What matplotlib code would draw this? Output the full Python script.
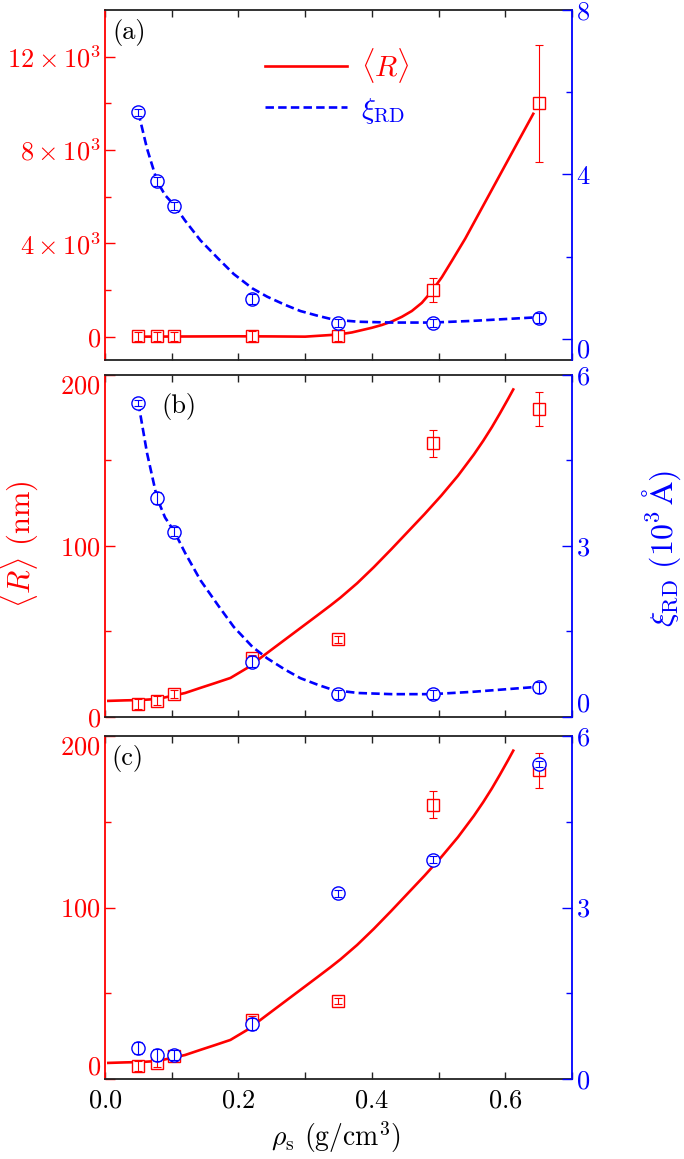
import numpy as np
import matplotlib
matplotlib.use('Agg')
import matplotlib.pyplot as plt
from matplotlib.ticker import FixedLocator, MultipleLocator

plt.rcParams['font.family'] = ['cmr10', 'DejaVu Serif']
plt.rcParams['mathtext.fontset'] = 'cm'
plt.rcParams['axes.formatter.use_mathtext'] = True
plt.rcParams['axes.unicode_minus'] = False

# Dati misurati (densita' in g/cm^3)
rho = [0.050, 0.078, 0.104, 0.221, 0.349, 0.492, 0.650]

# pannello (a)
R_a = [8, 10, 13, 34, 46, 2000, 10000]
R_a_err = [180, 180, 180, 220, 220, 500, 2500]
xi_a = [5.51, 3.83, 3.24, 0.97, 0.39, 0.39, 0.51]
xi_a_err = [0.08, 0.1, 0.1, 0.12, 0.1, 0.1, 0.12]

# pannelli (b) e (c)
R_nm = [7.5, 9.5, 13.5, 34.5, 45.5, 160, 180]
R_nm_err = [3, 2.5, 2.5, 2, 2, 8, 10]
xi_b = [5.51, 3.84, 3.25, 0.97, 0.40, 0.40, 0.52]
xi_b_err = [0.05, 0.1, 0.08, 0.1, 0.08, 0.08, 0.1]
xi_c = [0.54, 0.42, 0.42, 0.96, 3.25, 3.84, 5.51]
xi_c_err = [0.1, 0.1, 0.08, 0.1, 0.06, 0.06, 0.05]

# curve di fit
fitR_a_x = [0.05, 0.10, 0.15, 0.20, 0.25, 0.30, 0.349, 0.37, 0.388, 0.40, 0.415,
            0.43, 0.445, 0.46, 0.475, 0.49, 0.505, 0.52, 0.54, 0.56, 0.58,
            0.60, 0.62, 0.642]
fitR_a_y = [0, 5, 10, 15, 10, 0, 90, 180, 300, 380, 500, 650, 850, 1100, 1450,
            1950, 2550, 3250, 4200, 5250, 6300, 7350, 8400, 9550]

fitR_x = [0.005, 0.03, 0.053, 0.078, 0.093, 0.12, 0.143, 0.165, 0.188, 0.213,
          0.243, 0.293, 0.318, 0.338, 0.353, 0.378, 0.403, 0.429, 0.454, 0.479,
          0.504, 0.529, 0.553, 0.567, 0.58, 0.592, 0.604, 0.612]
fitR_y = [9.4, 9.7, 9.9, 10.5, 11.7, 14.0, 17.0, 19.8, 22.8, 28.6,
          37.4, 52.0, 59.3, 65.2, 69.8, 78.2, 87.6, 98.0, 108.3, 118.6,
          129.4, 141.0, 153.5, 161.5, 169.5, 177.5, 185.8, 191.5]

fitxi_x = [0.05, 0.063, 0.078, 0.09, 0.104, 0.12, 0.143, 0.17, 0.193, 0.221,
           0.243, 0.27, 0.293, 0.32, 0.343, 0.38, 0.43, 0.49, 0.55, 0.65]
fitxi_y = [5.51, 4.63, 3.84, 3.50, 3.25, 2.88, 2.40, 1.95, 1.58, 1.23,
           1.03, 0.83, 0.68, 0.56, 0.47, 0.42, 0.40, 0.40, 0.44, 0.53]

RED = '#ff0000'
BLUE = '#0000ff'
FS = 19


def prepara(ax, tw, ylim_l, ylim_r):
    ax.set_xlim(0, 0.7)
    ax.set_ylim(*ylim_l)
    tw.set_ylim(*ylim_r)
    for s in ['top', 'bottom']:
        ax.spines[s].set_color('#222222')
        ax.spines[s].set_linewidth(1.3)
        tw.spines[s].set_visible(False)
    ax.spines['left'].set_color(RED)
    ax.spines['left'].set_linewidth(1.3)
    ax.spines['right'].set_visible(False)
    tw.spines['left'].set_visible(False)
    tw.spines['right'].set_color(BLUE)
    tw.spines['right'].set_linewidth(1.3)
    ax.xaxis.set_major_locator(MultipleLocator(0.2))
    ax.xaxis.set_minor_locator(MultipleLocator(0.1))
    ax.tick_params(axis='x', which='both', direction='in', top=True, bottom=True,
                   length=5, width=1, colors='#222222', labelsize=FS, pad=7,
                   labelcolor='black')
    ax.tick_params(axis='y', which='major', direction='in', length=7, width=1,
                   color=RED, labelcolor=RED, labelsize=FS, pad=3)
    ax.tick_params(axis='y', which='minor', direction='in', length=4, width=1,
                   color=RED)
    tw.tick_params(axis='y', which='major', direction='in', length=7, width=1,
                   color=BLUE, labelcolor=BLUE, labelsize=FS, pad=3)
    tw.tick_params(axis='y', which='minor', direction='in', length=4, width=1,
                   color=BLUE)


def punti(ax, x, y, e, mk, col, ms, z):
    ax.plot(x, y, mk, mfc='white', mec=col, ms=ms, mew=1.0, ls='none', zorder=z)
    ax.errorbar(x, y, yerr=e, fmt='none', ecolor=col, elinewidth=0.8,
                capsize=3, capthick=0.8, zorder=z + 0.5)


def scale_bc(ax, tw):
    ax.set_yticks([0, 100, 200])
    ax.set_yticklabels([r'$0$', r'$100$', r'$200$'])
    ax.get_yticklabels()[-1].set_va('top')
    ax.yaxis.set_minor_locator(FixedLocator([50, 150]))
    tw.set_yticks([0, 3, 6])
    tw.set_yticklabels([r'$0$', r'$3$', r'$6$'])
    tw.yaxis.set_minor_locator(FixedLocator([1.5, 4.5]))


fig = plt.figure(figsize=(6.84, 11.59), dpi=100)

L, W = 0.1535, 0.6827

# ---------------- (a)
ax = fig.add_axes([L, 0.6894, W, 0.3020])
tw = ax.twinx()
prepara(ax, tw, (-1000, 14000), (-0.51, 8.0))
ax.set_yticks([0, 4000, 8000, 12000])
ax.set_yticklabels([r'$0$', r'$4\times10^3$', r'$8\times10^3$', r'$12\times10^3$'])
ax.yaxis.set_minor_locator(FixedLocator([2000, 6000, 10000]))
tw.set_yticks([0, 4, 8])
tw.set_yticklabels([r'$0$', r'$4$', r'$8$'])
tw.get_yticklabels()[0].set_va('top')
tw.yaxis.set_minor_locator(FixedLocator([2, 6]))
ax.tick_params(axis='x', labelbottom=False)
hR, = ax.plot(fitR_a_x, fitR_a_y, '-', color=RED, lw=1.9, zorder=2)
punti(ax, rho, R_a, R_a_err, 's', RED, 8.2, 3)
hX, = tw.plot(fitxi_x, fitxi_y, color=BLUE, lw=1.9, ls=(0, (3.2, 1.6)), zorder=2)
punti(tw, rho, xi_a, xi_a_err, 'o', BLUE, 9.5, 3)
ax.text(112 / 684, 1 - 33 / 1159, '(a)', transform=fig.transFigure,
        fontsize=FS, ha='left', va='center')
leg = ax.legend([hR, hX], [r'$\langle R\rangle$', r'$\xi_{\rm RD}$'],
                loc='center left', bbox_to_anchor=(265 / 684, 1 - 86 / 1159),
                bbox_transform=fig.transFigure, frameon=False, fontsize=FS + 2,
                handlelength=2.8, handletextpad=0.5, labelspacing=0.35,
                borderpad=0, borderaxespad=0)
for t, c in zip(leg.get_texts(), [RED, BLUE]):
    t.set_color(c)

# ---------------- (b)
ax = fig.add_axes([L, 0.3814, W, 0.2951])
tw = ax.twinx()
prepara(ax, tw, (0, 200), (0, 6))
scale_bc(ax, tw)
tw.get_yticklabels()[0].set_va('bottom')
ax.tick_params(axis='x', labelbottom=False)
ax.plot(fitR_x, fitR_y, '-', color=RED, lw=1.9, zorder=2)
punti(ax, rho, R_nm, R_nm_err, 's', RED, 8.2, 3)
tw.plot(fitxi_x, fitxi_y, color=BLUE, lw=1.9, ls=(0, (3.2, 1.6)), zorder=2)
punti(tw, rho, xi_b, xi_b_err, 'o', BLUE, 9.5, 3)
ax.text(161 / 684, 1 - 406 / 1159, '(b)', transform=fig.transFigure,
        fontsize=FS, ha='left', va='center')

# ---------------- (c)
ax = fig.add_axes([L, 0.0690, W, 0.2959])
tw = ax.twinx()
prepara(ax, tw, (0, 200), (0, 6))
scale_bc(ax, tw)
ax.get_yticklabels()[0].set_va('bottom')
ax.set_xticks([0.0, 0.2, 0.4, 0.6])
ax.set_xticklabels([r'$0.0$', r'$0.2$', r'$0.4$', r'$0.6$'])
ax.plot(fitR_x, fitR_y, '-', color=RED, lw=1.9, zorder=2)
punti(ax, rho, R_nm, R_nm_err, 's', RED, 8.2, 3)
punti(tw, rho, xi_c, xi_c_err, 'o', BLUE, 9.5, 3)
ax.text(111 / 684, 1 - 758 / 1159, '(c)', transform=fig.transFigure,
        fontsize=FS, ha='left', va='center')

# etichette degli assi
fig.text(19 / 684, 1 - 544 / 1159, r'$\langle R\rangle$ (nm)', color=RED,
         fontsize=FS + 3, rotation=90, ha='center', va='center')
fig.text(662 / 684, 1 - 548 / 1159, r'$\xi_{\rm RD}\ (10^3\,\mathrm{\AA})$',
         color=BLUE, fontsize=FS + 4, rotation=90, ha='center', va='center')
fig.text(336 / 684, 1 - 1137 / 1159, r'$\rho_{\rm s}$ (g/cm$^3$)',
         fontsize=FS + 1, ha='center', va='center')

fig.savefig('out.png', dpi=100)
